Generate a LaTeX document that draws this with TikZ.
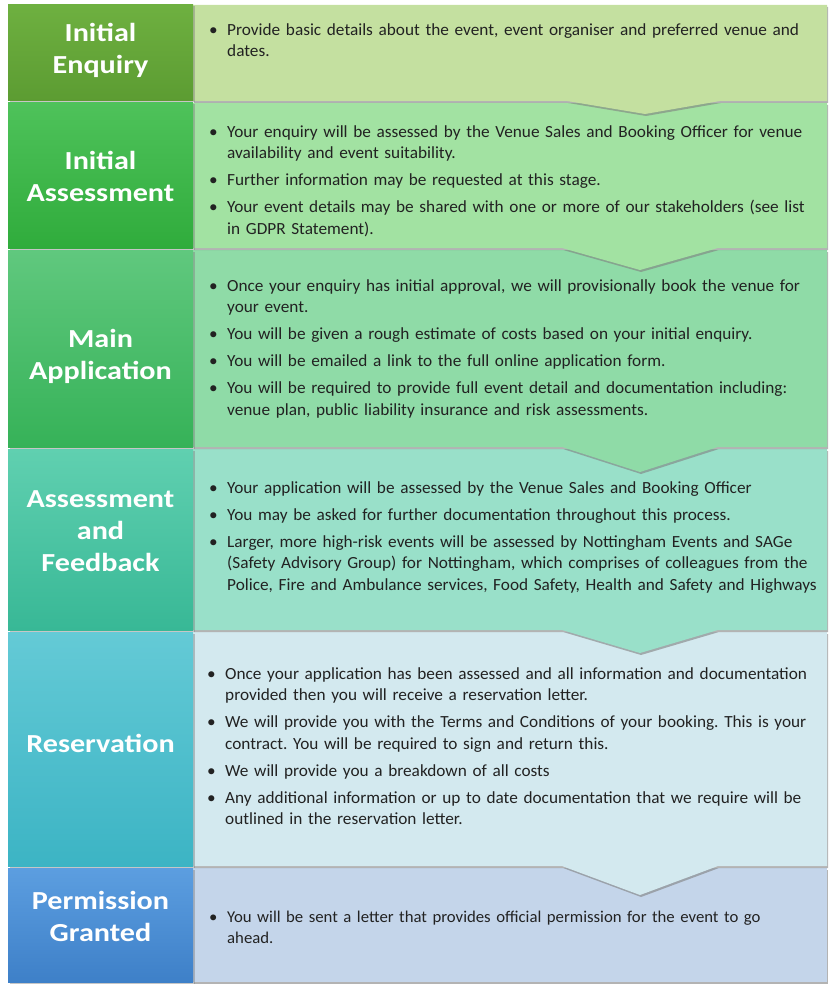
\documentclass[tikz,border=0pt]{standalone}
\usepackage{fontspec}
\setmainfont{Carlito}
\newfontfamily\stagefont[FakeStretch=1.16]{Carlito}
\newfontfamily\bodyfont[FakeStretch=1.015]{Carlito}
\frenchspacing
\definecolor{txtgray}{RGB}{34,34,34}
% stage colours (label top / label bottom / panel)
\definecolor{enqtop}{RGB}{110,176,64}
\definecolor{enqbot}{RGB}{92,156,50}
\definecolor{enqpanel}{RGB}{196,224,160}
\definecolor{iatop}{RGB}{78,194,90}
\definecolor{iabot}{RGB}{48,172,60}
\definecolor{iapanel}{RGB}{162,226,162}
\definecolor{matop}{RGB}{96,200,126}
\definecolor{mabot}{RGB}{54,178,88}
\definecolor{mapanel}{RGB}{143,219,167}
\definecolor{aftop}{RGB}{96,208,176}
\definecolor{afbot}{RGB}{56,184,150}
\definecolor{afpanel}{RGB}{153,224,201}
\definecolor{restop}{RGB}{100,202,214}
\definecolor{resbot}{RGB}{60,180,196}
\definecolor{respanel}{RGB}{211,233,239}
\definecolor{pgtop}{RGB}{92,158,224}
\definecolor{pgbot}{RGB}{62,128,200}
\definecolor{pgpanel}{RGB}{196,213,234}
\usetikzlibrary{positioning,shadows}
\newcommand{\bpt}[1]{\par\hangindent=18pt\hangafter=1\noindent\makebox[18pt][l]{\textbullet}#1\par}

\begin{document}
\begin{tikzpicture}[x=1pt,y=-1pt,
  stagebox/.style={minimum width=185pt,inner sep=0pt,
    drop shadow={shadow xshift=1.5pt,shadow yshift=-1.5pt,opacity=.45}},
  stagename/.style={inner sep=0pt,text=white,align=center,
    font=\stagefont\fontsize{26}{32}\selectfont\bfseries},
  panel/.style={drop shadow={shadow xshift=1pt,shadow yshift=-2pt,opacity=.6}},
  infotext/.style={anchor=north west,inner sep=0pt,text width=620pt,align=left,
    font=\bodyfont\fontsize{17}{21.5}\selectfont,text=txtgray,
    execute at begin node={\setlength{\parskip}{5.5pt}}}
]
  \useasboundingbox (0,0) rectangle (838,992);

  % Panels, drawn from the bottom up so each chevron sits on the next one
  \fill[pgpanel,panel] (193,868) rectangle (827,982);
  \fill[respanel,panel] (193,632) -- (827,632) -- (827,866) -- (718,866) -- (640,895) -- (562,866) -- (193,866) -- cycle;
  \fill[afpanel,panel] (193,449) -- (827,449) -- (827,630) -- (718,630) -- (640,653) -- (562,630) -- (193,630) -- cycle;
  \fill[mapanel,panel] (193,250) -- (827,250) -- (827,447) -- (718,447) -- (640,472) -- (562,447) -- (193,447) -- cycle;
  \fill[iapanel,panel] (193,103) -- (827,103) -- (827,248) -- (718,248) -- (640,270) -- (562,248) -- (193,248) -- cycle;
  \fill[enqpanel,panel] (193,5) -- (827,5) -- (827,101) -- (720,101) -- (645,114) -- (567,101) -- (193,101) -- cycle;

  % Stage boxes
  \node[stagebox,top color=enqtop,bottom color=enqbot,minimum height=96pt] (enquiry) at (100.5,53) {};
  \node[stagebox,top color=iatop,bottom color=iabot,minimum height=145pt] (initass) at (100.5,175.5) {};
  \node[stagebox,top color=matop,bottom color=mabot,minimum height=197pt] (mainapp) at (100.5,348.5) {};
  \node[stagebox,top color=aftop,bottom color=afbot,minimum height=181pt] (feedback) at (100.5,539.5) {};
  \node[stagebox,top color=restop,bottom color=resbot,minimum height=234pt] (reserve) at (100.5,749) {};
  \node[stagebox,top color=pgtop,bottom color=pgbot,minimum height=114pt] (granted) at (100.5,925) {};

  % Stage names
  \node[stagename] (enquiryname) at (100.5,50) {Initial\\Enquiry};
  \node[stagename] (initassname) at (100.5,176) {Initial\\Assessment};
  \node[stagename] (mainappname) at (100.5,356) {Main\\Application};
  \node[stagename] (feedbackname) at (100.5,531) {Assessment\\and\\Feedback};
  \node[stagename] (reservename) at (100.5,743) {Reservation};
  \node[stagename] (grantedname) at (100.5,916) {Permission\\Granted};

  % Stage details
  \node[infotext] (enquirytxt) at (209,8) {%
    \bpt{Provide basic details about the event, event organiser and preferred venue and\newline dates.}};
  \node[infotext] (initasstxt) at (209,110) {%
    \bpt{Your enquiry will be assessed by the Venue Sales and Booking Officer for venue\newline availability and event suitability.}
    \bpt{Further information may be requested at this stage.}
    \bpt{Your event details may be shared with one or more of our stakeholders (see list\newline in GDPR Statement).}};
  \node[infotext] (mainapptxt) at (209,264) {%
    \bpt{Once your enquiry has initial approval, we will provisionally book the venue for\newline your event.}
    \bpt{You will be given a rough estimate of costs based on your initial enquiry.}
    \bpt{You will be emailed a link to the full online application form.}
    \bpt{You will be required to provide full event detail and documentation including:\newline venue plan, public liability insurance and risk assessments.}};
  \node[infotext] (feedbacktxt) at (209,466) {%
    \bpt{Your application will be assessed by the Venue Sales and Booking Officer}
    \bpt{You may be asked for further documentation throughout this process.}
    \bpt{Larger, more high-risk events will be assessed by Nottingham Events and SAGe\newline (Safety Advisory Group) for Nottingham, which comprises of colleagues from the\newline Police, Fire and Ambulance services, Food Safety, Health and Safety and Highways}};
  \node[infotext] (reservetxt) at (207,652) {%
    \bpt{Once your application has been assessed and all information and documentation\newline provided then you will receive a reservation letter.}
    \bpt{We will provide you with the Terms and Conditions of your booking. This is your\newline contract. You will be required to sign and return this.}
    \bpt{We will provide you a breakdown of all costs}
    \bpt{Any additional information or up to date documentation that we require will be\newline outlined in the reservation letter.}};
  \node[infotext,font=\bodyfont\fontsize{16.5}{21.5}\selectfont] (grantedtxt) at (209,895) {%
    \bpt{You will be sent a letter that provides official permission for the event to go\newline ahead.}};
\end{tikzpicture}
\end{document}
